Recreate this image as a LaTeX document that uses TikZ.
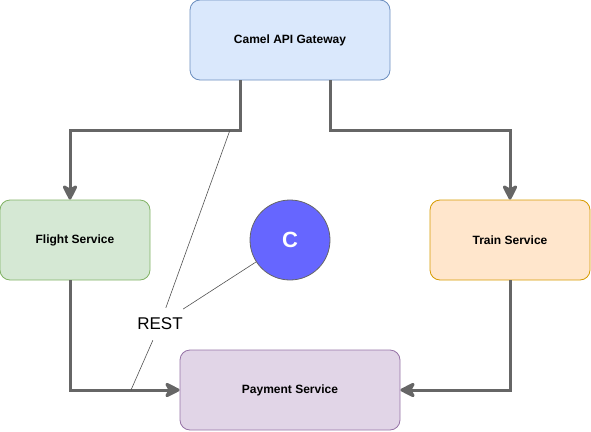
\documentclass[tikz,border=0pt]{standalone}
\usepackage{fontspec}
\setmainfont{Liberation Sans}
\usetikzlibrary{arrows.meta}
\definecolor{edgegray}{HTML}{666666}
\definecolor{gwfill}{HTML}{DAE8FC}\definecolor{gwdraw}{HTML}{6C8EBF}
\definecolor{flfill}{HTML}{D5E8D4}\definecolor{fldraw}{HTML}{82B366}
\definecolor{trfill}{HTML}{FFE6CC}\definecolor{trdraw}{HTML}{D79B00}
\definecolor{pyfill}{HTML}{E1D5E7}\definecolor{pydraw}{HTML}{9673A6}
\definecolor{cfill}{HTML}{6666FF}
\tikzset{
  svc/.style={draw, rounded corners=10pt, line width=0.8pt, inner sep=0pt,
    font=\fontsize{12}{14}\selectfont\bfseries, text=black},
  flow/.style={draw=edgegray, line width=3pt, rounded corners=0pt,
    -{Stealth[length=18pt,width=18pt,inset=5pt,round]}},
  thin/.style={draw=edgegray!80!black, line width=0.6pt},
}
\begin{document}
\begin{tikzpicture}[x=1pt,y=-1pt]
\useasboundingbox (0,0) rectangle (591,431);
\node[svc, fill=gwfill, draw=gwdraw, minimum width=200pt, minimum height=80pt] (gw) at (290,40) {Camel API Gateway};
\node[svc, fill=flfill, draw=fldraw, minimum width=150pt, minimum height=80pt] (fl) at (75,240) {Flight Service};
\node[svc, fill=trfill, draw=trdraw, minimum width=160pt, minimum height=80pt] (tr) at (510,240) {Train Service};
\node[svc, fill=pyfill, draw=pydraw, minimum width=220pt, minimum height=80pt] (py) at (290,390) {Payment Service};
\node[circle, fill=cfill, draw=edgegray, line width=0.8pt, minimum size=80pt, inner sep=0pt,
  text=white, font=\fontsize{22}{24}\selectfont\bfseries] (c) at (290,240) {C};
\node[font=\fontsize{17}{19}\selectfont, minimum width=46pt, minimum height=32pt, inner sep=0pt] (rest) at (160,324) {REST};
\coordinate (r1) at (230,130);
\coordinate (r2) at (131,390);
\draw[flow] (gw.south -| 240,0) -- (240,130) -- (70,130) -- (fl.north -| 70,0);
\draw[flow] (gw.south -| 330,0) -- (330,130) -- (510,130) -- (tr.north);
\draw[flow] (fl.south -| 70,0) -- (70,390) -- (py.west);
\draw[flow] (tr.south) -- (510,390) -- (py.east);
\draw[thin] (r1) -- (rest);
\draw[thin] (rest) -- (r2);
\draw[thin] (c) -- (rest);
\end{tikzpicture}
\end{document}
